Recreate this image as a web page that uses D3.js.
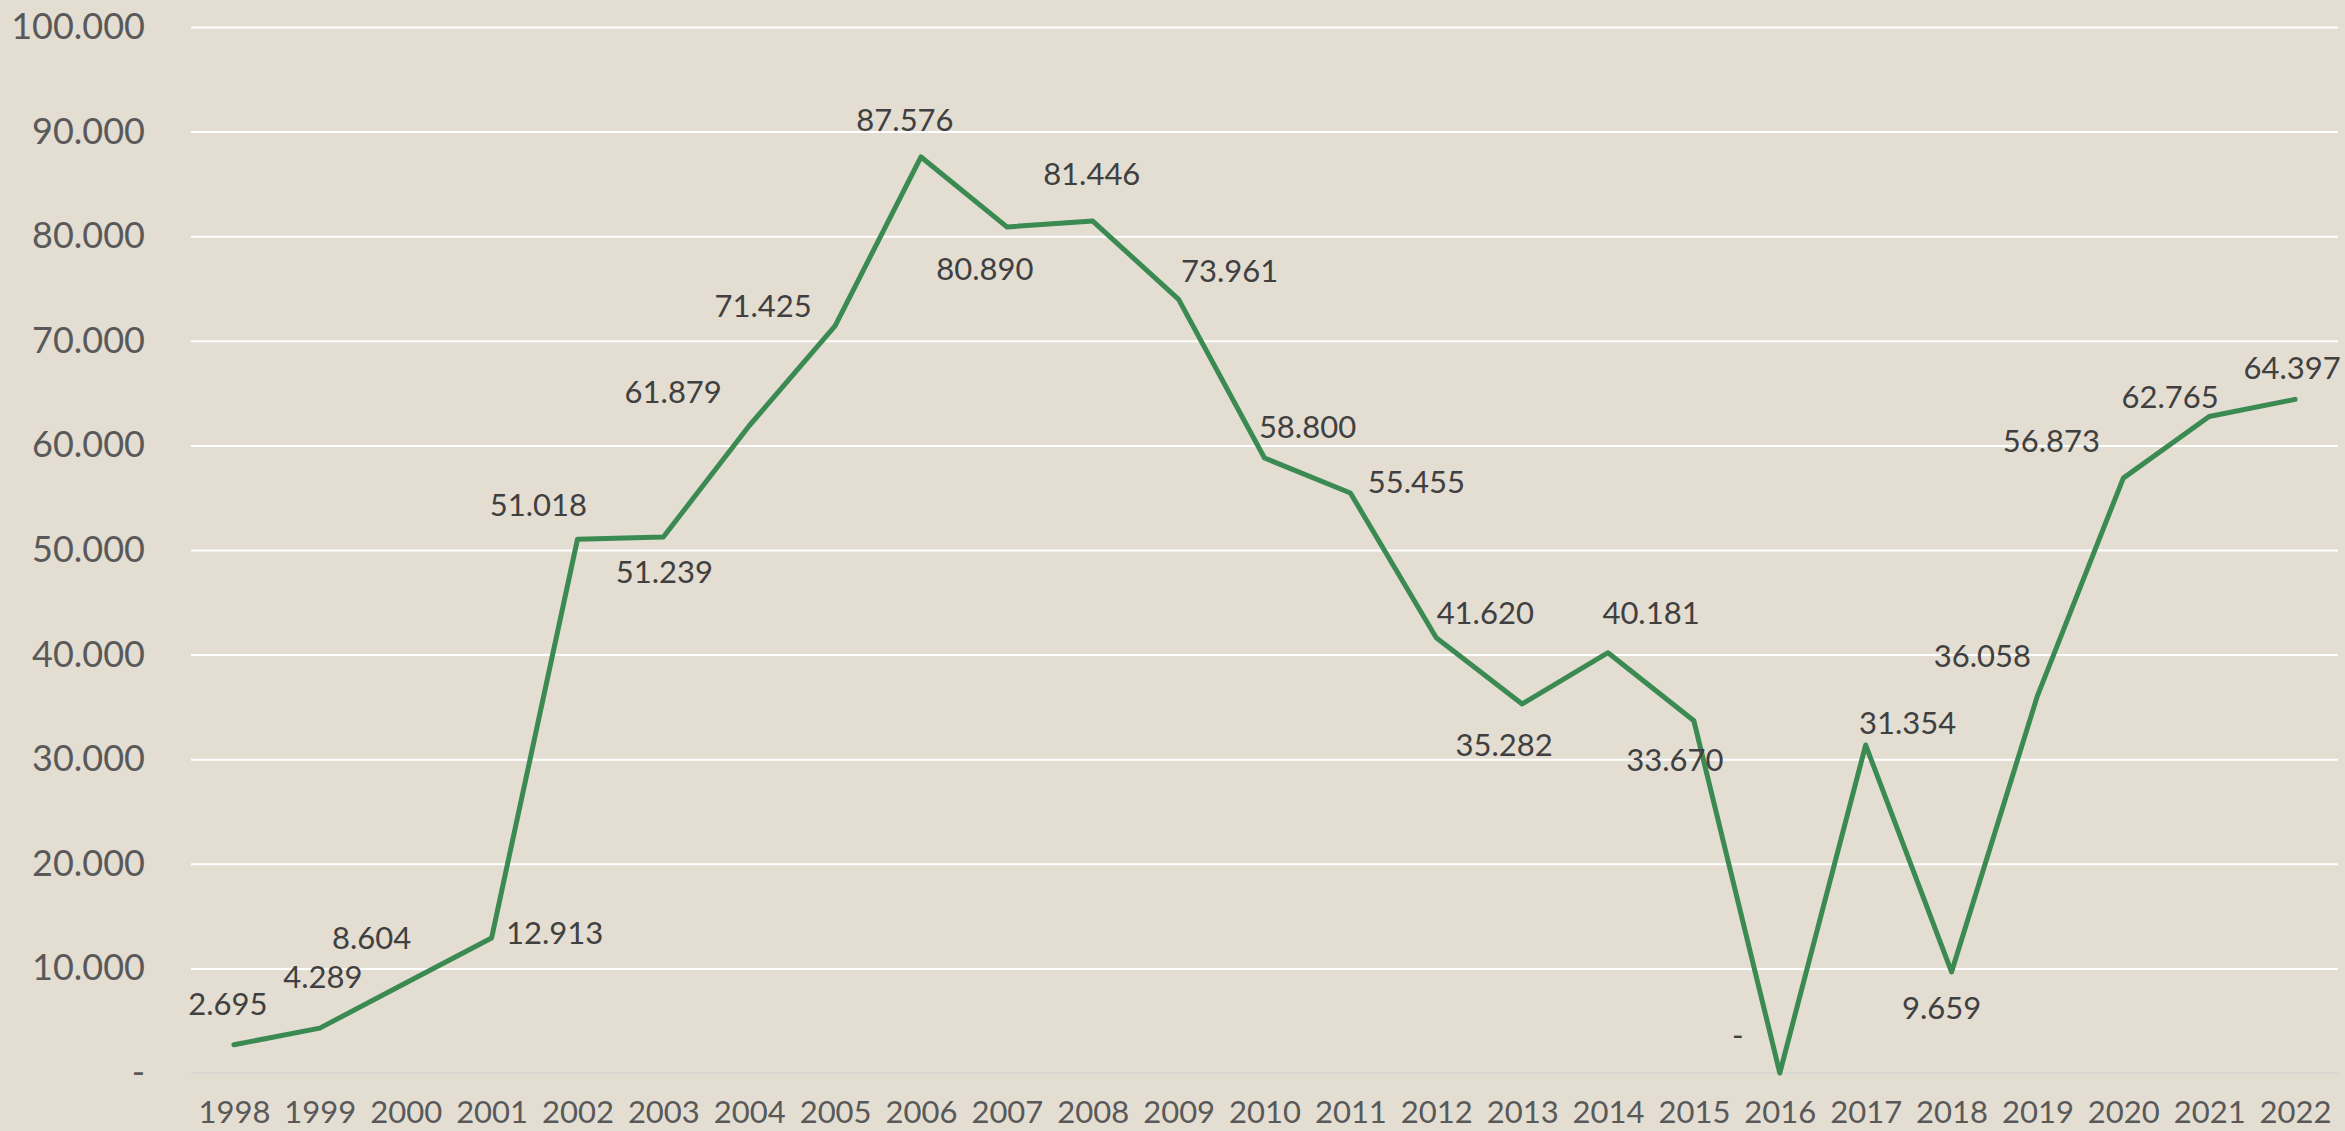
<!DOCTYPE html>
<html>
<head>
<meta charset="utf-8">
<script src="https://cdn.jsdelivr.net/npm/d3@7"></script>
<style>
  html, body { margin: 0; padding: 0; background: #e3ddd2; }
  svg { display: block; }
  .grid line { stroke: #ffffff; stroke-width: 2; }
  .grid path { display: none; }
</style>
</head>
<body>
<svg id="chart" width="2345" height="1131"></svg>
<script>
const years = ["1998","1999","2000","2001","2002","2003","2004","2005","2006","2007","2008","2009",
  "2010","2011","2012","2013","2014","2015","2016","2017","2018","2019","2020","2021","2022"];
const values = [2695, 4289, 8604, 12913, 51018, 51239, 61879, 71425, 87576, 80890, 81446, 73961,
  58800, 55455, 41620, 35282, 40181, 33670, 0, 31354, 9659, 36058, 56873, 62765, 64397];
const yTicks = [0, 10000, 20000, 30000, 40000, 50000, 60000, 70000, 80000, 90000, 100000];

// manual nudges of the data labels (px), like the moved labels in the original sheet
const labelNudge = [[-6,-42],[3,-52],[-34,-46],[63,-6],[-39,-35],[1,34],[-76,-35],[-72,-21],
  [-16,-38],[-22,41],[-1,-48],[51,-29],[43,-32],[66,-12],[49,-26],[-18,40],[43,-41],[-19,38],
  [-42,-39],[42,-23],[-10,35],[-55,-41],[-72,-38],[-39,-20],[-3,-32]];

const margin = {top: 27, right: 7, bottom: 58, left: 191};
const width = 2345, height = 1131;
const font = "Lato, 'Noto Sans', sans-serif";

const fmt = v => v === 0 ? "-" : d3.format(",")(v).replace(/,/g, ".");

const svg = d3.select("#chart");

const x = d3.scalePoint()
  .domain(years)
  .range([margin.left, width - margin.right])
  .padding(0.5);

const y = d3.scaleLinear()
  .domain([0, 100000])
  .range([height - margin.bottom, margin.top]);

// horizontal grid
svg.append("g")
  .attr("class", "grid")
  .attr("transform", `translate(${margin.left},0)`)
  .call(d3.axisLeft(y).tickValues(yTicks.slice(1)).tickSize(-(width - margin.left - margin.right)).tickFormat(""));

// zero baseline
svg.append("line")
  .attr("x1", margin.left).attr("x2", width - margin.right)
  .attr("y1", y(0)).attr("y2", y(0))
  .attr("stroke", "#d9d6cf").attr("stroke-width", 2);

// y axis labels
const yAxis = svg.append("g")
  .attr("transform", `translate(${margin.left},0)`)
  .call(d3.axisLeft(y).tickValues(yTicks).tickSize(0).tickPadding(46).tickFormat(fmt));
yAxis.select(".domain").remove();
yAxis.selectAll("text")
  .style("font-family", font).style("font-size", "36px").attr("fill", "#595959");

// x axis labels
const xAxis = svg.append("g")
  .attr("transform", `translate(0,${y(0)})`)
  .call(d3.axisBottom(x).tickSize(0).tickPadding(28));
xAxis.select(".domain").remove();
xAxis.selectAll("text")
  .style("font-family", font).style("font-size", "31px").attr("fill", "#595959");

// line
const line = d3.line()
  .x((d, i) => x(years[i]))
  .y(d => y(d));

svg.append("path")
  .datum(values)
  .attr("d", line)
  .attr("fill", "none")
  .attr("stroke", "#3a8a52")
  .attr("stroke-width", 5)
  .attr("stroke-linejoin", "round")
  .attr("stroke-linecap", "round");

// data labels
svg.append("g")
  .selectAll("text")
  .data(values)
  .join("text")
  .attr("x", (d, i) => x(years[i]) + labelNudge[i][0])
  .attr("y", (d, i) => y(d) + labelNudge[i][1])
  .attr("text-anchor", "middle")
  .attr("dominant-baseline", "central")
  .style("font-family", font)
  .style("font-size", "31px")
  .attr("fill", "#404040")
  .text(fmt);
</script>
</body>
</html>
